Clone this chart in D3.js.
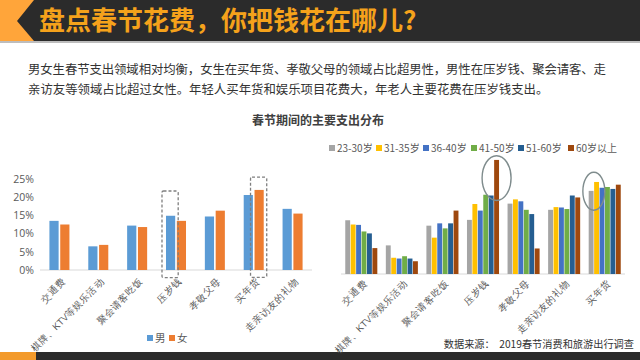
<!DOCTYPE html>
<html><head><meta charset="utf-8">
<script src="https://cdn.jsdelivr.net/npm/d3@7"></script>
<style>
html,body{margin:0;padding:0;background:#fff;}
svg{display:block;font-family:"Noto Sans CJK SC","Noto Sans",sans-serif;}
</style></head>
<body><svg id="c" width="640" height="360"></svg>
<script>
// ---- data ----
const pageTitle = "盘点春节花费，你把钱花在哪儿?";
const paraLines = [
  "男女生春节支出领域相对均衡，女生在买年货、孝敬父母的领域占比超男性，男性在压岁钱、聚会请客、走",
  "亲访友等领域占比超过女性。年轻人买年货和娱乐项目花费大，年老人主要花费在压岁钱支出。"
];
const chartTitle = "春节期间的主要支出分布";
const sourceText = "数据来源：  2019春节消费和旅游出行调查";

const genderCats = ["交通费","棋牌、KTV等娱乐活动","聚会请客吃饭","压岁钱","孝敬父母","买年货","走亲访友的礼物"];
const genderSeries = ["男","女"];
const maleVals   = [13.5, 6.5, 12.2, 14.9, 14.7, 20.6, 16.8];
const femaleVals = [12.5, 6.9, 11.8, 13.5, 16.3, 22.0, 15.5];
const yTicksLeft = [0,5,10,15,20,25];

const ageCats = ["交通费","棋牌、KTV等娱乐活动","聚会请客吃饭","压岁钱","孝敬父母","走亲访友的礼物","买年货"];
const ageSeries = ["23-30岁","31-35岁","36-40岁","41-50岁","51-60岁","60岁以上"];
const age23_30 = [13.9, 7.4, 12.5, 14.0, 18.2, 16.6, 21.5];
const age31_35 = [12.8, 4.2,  9.4, 18.1, 19.3, 17.3, 23.8];
const age36_40 = [12.7, 4.0, 13.1, 16.4, 18.8, 17.2, 22.3];
const age41_50 = [11.0, 4.6, 11.8, 20.5, 16.6, 16.8, 22.5];
const age51_60 = [10.5, 4.0, 13.1, 20.3, 15.5, 20.3, 22.0];
const age60up  = [ 6.7, 3.3, 16.4, 29.5,  6.6, 19.8, 23.1];

// highlight annotations: [category, series, topValue, bottomValue]
const leftBoxes = [["压岁钱","男",21.7,-2.1],["买年货","女",25.5,-2.0]];
// ellipses: [category, centerSeries(s), centerValue, halfHeightValue]
const rightRings = [["压岁钱",["60岁以上"],24.8,5.8],["买年货",["23-30岁","31-35岁"],21.4,4.9]];

// ---- drawing ----
const svg = d3.select("#c");
const dark = "#2b2b2b", orange = "#f5a21b";

// header
svg.append("rect").attr("x",0).attr("y",0).attr("width",640).attr("height",42).attr("fill","#ffa53a");
svg.append("polygon").attr("points","34,0 640,0 640,41 34,41 17,21").attr("fill",dark);
svg.append("rect").attr("x",0).attr("y",41).attr("width",640).attr("height",2).attr("fill","#bdbdbd");
svg.append("text").attr("x",39).attr("y",30).attr("font-size",26).attr("font-weight",700)
  .attr("fill",orange).text(pageTitle);

// paragraph (first line justified to full width)
svg.selectAll("text.para").data(paraLines).join("text").attr("class","para")
  .attr("x",28).attr("y",(d,i)=>74+i*20).attr("font-size",12.4).attr("fill","#333")
  .each(function(d,i){ if(i===0) d3.select(this).attr("textLength",578).attr("lengthAdjust","spacing"); })
  .text(d=>d);

// chart title
svg.append("text").attr("x",318).attr("y",125).attr("text-anchor","middle").attr("font-size",12)
  .attr("font-weight",700).attr("fill","#404040").text(chartTitle);

// footer
svg.append("rect").attr("x",0).attr("y",352).attr("width",640).attr("height",8).attr("fill",dark);
svg.append("rect").attr("x",0).attr("y",352).attr("width",36).attr("height",8).attr("fill","#f39a2b");
svg.append("text").attr("x",634).attr("y",348).attr("text-anchor","end").attr("font-size",10.2)
  .attr("fill","#333").attr("xml:space","preserve").text(sourceText);

const axisGray = "#d9d9d9", labelGray = "#595959";

// ---- left chart ----
const xL = d3.scaleBand().domain(genderCats).range([40,312]).paddingInner(0.485).paddingOuter(0.2425);
const xLi = d3.scaleBand().domain(genderSeries).range([0,xL.bandwidth()]).paddingInner(0.15);
const yL = d3.scaleLinear().domain([0,25]).range([270,179]);
const colL = d3.scaleOrdinal().domain(genderSeries).range(["#5b9bd5","#ed7d31"]);
const leftData = genderCats.map((c,i)=>({cat:c, vals:[{s:"男",v:maleVals[i]},{s:"女",v:femaleVals[i]}]}));

const gL = svg.append("g");
const yAxL = gL.append("g").attr("transform","translate(40,0)")
  .call(d3.axisLeft(yL).tickValues(yTicksLeft).tickFormat(d=>d+"%").tickSize(0).tickPadding(6));
yAxL.select(".domain").remove();
yAxL.selectAll("text").attr("font-size",10.5).attr("fill",labelGray).attr("font-family","'Open Sans','Noto Sans',sans-serif");
gL.append("line").attr("x1",40).attr("x2",312).attr("y1",yL(0)).attr("y2",yL(0)).attr("stroke",axisGray);
gL.selectAll("g.grp").data(leftData).join("g").attr("transform",d=>`translate(${xL(d.cat)},0)`)
  .selectAll("rect").data(d=>d.vals).join("rect")
  .attr("x",d=>xLi(d.s)).attr("width",xLi.bandwidth())
  .attr("y",d=>yL(d.v)).attr("height",d=>yL(0)-yL(d.v)).attr("fill",d=>colL(d.s));
const xAxL = gL.append("g").attr("transform",`translate(0,${yL(0)})`)
  .call(d3.axisBottom(xL).tickSize(0).tickPadding(0));
xAxL.select(".domain").remove();
xAxL.selectAll("text").attr("font-size",9.5).attr("fill",labelGray).attr("text-anchor","end")
  .attr("transform","translate(4,10) rotate(-45)").attr("dy","0.35em");
// dashed boxes
leftBoxes.forEach(b=>{
  const x0 = xL(b[0])+xLi(b[1]);
  gL.append("rect").attr("x",x0-4).attr("width",xLi.bandwidth()+7)
    .attr("y",yL(b[2])).attr("height",yL(b[3])-yL(b[2])).attr("rx",1.5)
    .attr("fill","none").attr("stroke","#7f7f7f").attr("stroke-width",1.3).attr("stroke-dasharray","3,2");
});
// left legend
const legL = svg.append("g").attr("transform","translate(147,338)");
genderSeries.forEach((s,i)=>{
  const g = legL.append("g").attr("transform",`translate(${i*22},0)`);
  g.append("rect").attr("x",0).attr("y",-3).attr("width",6).attr("height",6).attr("fill",colL(s));
  g.append("text").attr("x",8).attr("y",0).attr("dy","0.35em").attr("font-size",10.5).attr("fill",labelGray).text(s);
});

// ---- right chart ----
const xR = d3.scaleBand().domain(ageCats).range([341,625]).paddingInner(0.21).paddingOuter(0.105);
const xRi = d3.scaleBand().domain(ageSeries).range([0,xR.bandwidth()]).paddingInner(0.1);
const yR = d3.scaleLinear().domain([0,30]).range([274,158]);
const colR = d3.scaleOrdinal().domain(ageSeries).range(["#a5a5a5","#ffc000","#4472c4","#70ad47","#255e91","#9e480e"]);
const ageArrays = [age23_30,age31_35,age36_40,age41_50,age51_60,age60up];
const rightData = ageCats.map((c,i)=>({cat:c, vals:ageSeries.map((s,j)=>({s, v:ageArrays[j][i]}))}));

const gR = svg.append("g");
gR.append("line").attr("x1",341).attr("x2",625).attr("y1",yR(0)).attr("y2",yR(0)).attr("stroke",axisGray);
gR.selectAll("g.grp").data(rightData).join("g").attr("transform",d=>`translate(${xR(d.cat)},0)`)
  .selectAll("rect").data(d=>d.vals).join("rect")
  .attr("x",d=>xRi(d.s)).attr("width",xRi.bandwidth())
  .attr("y",d=>yR(d.v)).attr("height",d=>yR(0)-yR(d.v)).attr("fill",d=>colR(d.s));
const xAxR = gR.append("g").attr("transform",`translate(0,${yR(0)})`)
  .call(d3.axisBottom(xR).tickSize(0).tickPadding(0));
xAxR.select(".domain").remove();
xAxR.selectAll("text").attr("font-size",9.5).attr("fill",labelGray).attr("text-anchor","end")
  .attr("transform","translate(4,8) rotate(-45)").attr("dy","0.35em");
rightRings.forEach(r=>{
  const xs = r[1].map(s=>xR(r[0])+xRi(s)+xRi.bandwidth()/2);
  const cx = d3.mean(xs);
  gR.append("ellipse").attr("cx",cx).attr("cy",yR(r[2]))
    .attr("rx", r[1].length>1 ? 11 : 14.5).attr("ry",yR(r[2]-r[3])-yR(r[2]))
    .attr("fill","none").attr("stroke","#7f8c8d").attr("stroke-width",1.4);
});
// right legend
const legR = svg.append("g").attr("transform","translate(329,148)");
const legOffsets = [0,47,94,142,189,239];
ageSeries.forEach((s,i)=>{
  const g = legR.append("g").attr("transform",`translate(${legOffsets[i]},0)`);
  g.append("rect").attr("x",0).attr("y",-3).attr("width",6).attr("height",6).attr("fill",colR(s));
  g.append("text").attr("x",8).attr("y",0).attr("dy","0.35em").attr("font-size",10).attr("fill",labelGray).text(s);
});
</script></body></html>
